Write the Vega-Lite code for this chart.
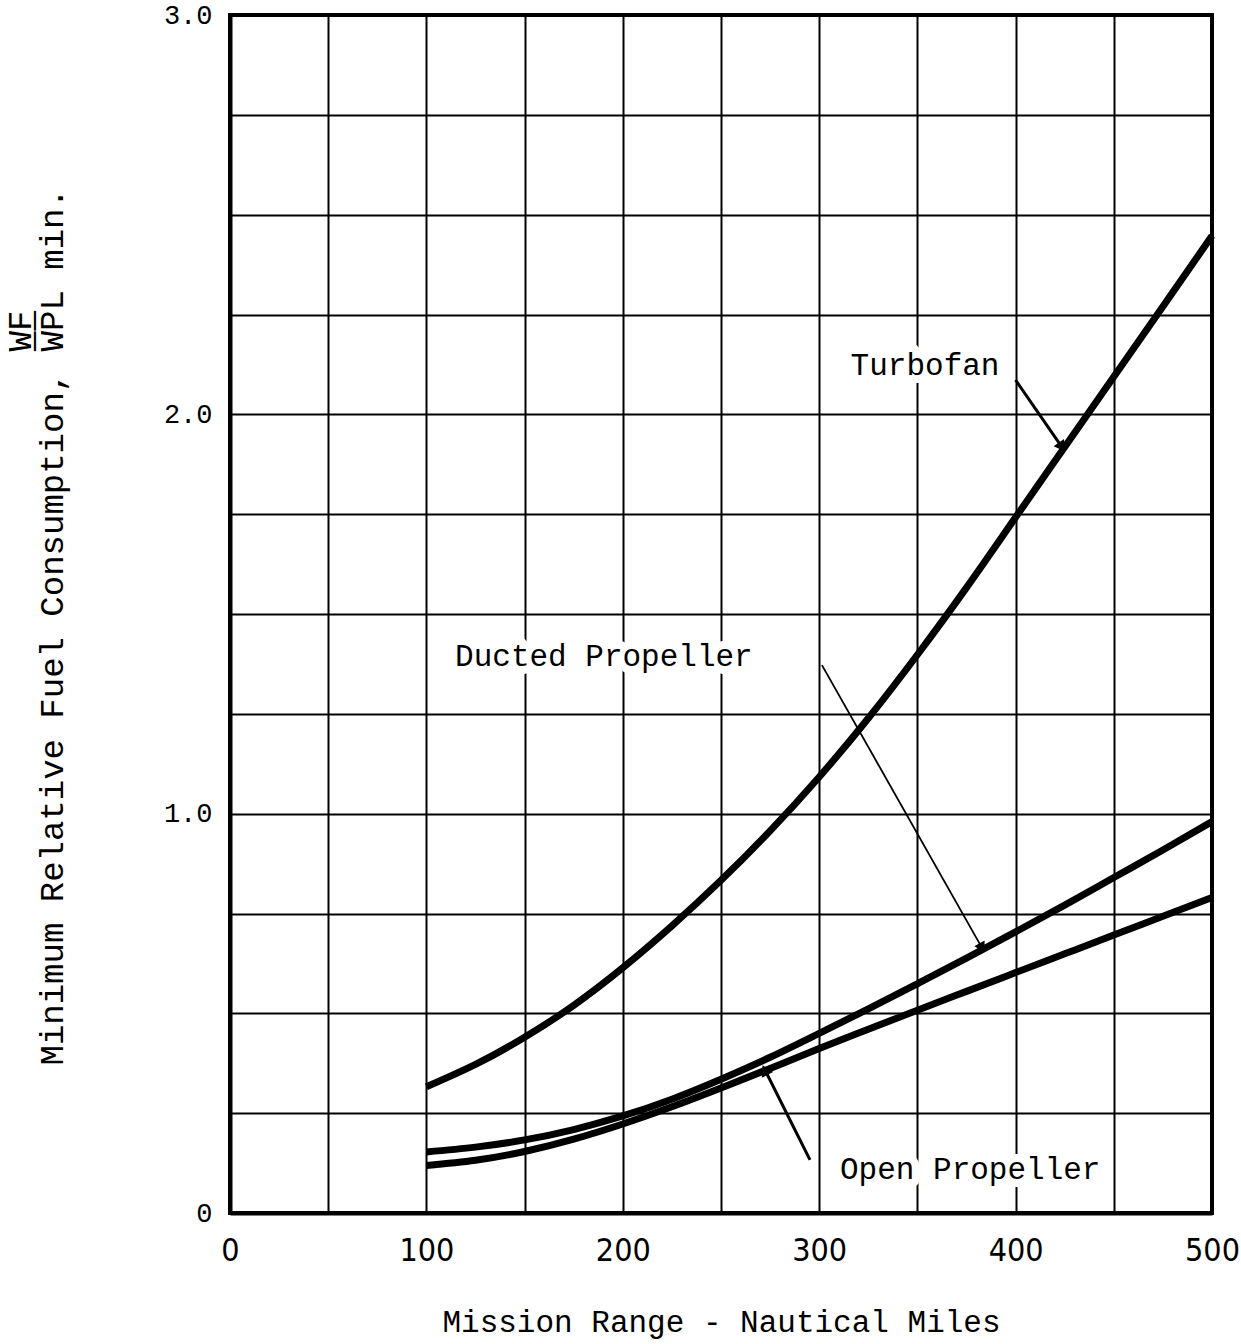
{
  "$schema": "https://vega.github.io/schema/vega-lite/v6.json",
  "width": 982,
  "height": 1198,
  "autosize": {"type": "none"},
  "padding": {"left": 230, "top": 15, "right": 29, "bottom": 131},
  "background": "white",
  "config": {
    "view": {"stroke": "black", "strokeWidth": 4},
    "font": "Liberation Mono"
  },
  "datasets": {
    "curves": [
      {"series": "Turbofan", "range": 100, "value": 0.316},
      {"series": "Turbofan", "range": 125, "value": 0.372},
      {"series": "Turbofan", "range": 150, "value": 0.44},
      {"series": "Turbofan", "range": 175, "value": 0.52},
      {"series": "Turbofan", "range": 200, "value": 0.614},
      {"series": "Turbofan", "range": 225, "value": 0.719},
      {"series": "Turbofan", "range": 250, "value": 0.833},
      {"series": "Turbofan", "range": 275, "value": 0.957},
      {"series": "Turbofan", "range": 300, "value": 1.092},
      {"series": "Turbofan", "range": 325, "value": 1.239},
      {"series": "Turbofan", "range": 350, "value": 1.398},
      {"series": "Turbofan", "range": 375, "value": 1.566},
      {"series": "Turbofan", "range": 400, "value": 1.742},
      {"series": "Turbofan", "range": 425, "value": 1.918},
      {"series": "Turbofan", "range": 450, "value": 2.094},
      {"series": "Turbofan", "range": 475, "value": 2.27},
      {"series": "Turbofan", "range": 500, "value": 2.447},
      {"series": "Ducted Propeller", "range": 100, "value": 0.153},
      {"series": "Ducted Propeller", "range": 125, "value": 0.165},
      {"series": "Ducted Propeller", "range": 150, "value": 0.183},
      {"series": "Ducted Propeller", "range": 175, "value": 0.209},
      {"series": "Ducted Propeller", "range": 200, "value": 0.243},
      {"series": "Ducted Propeller", "range": 225, "value": 0.285},
      {"series": "Ducted Propeller", "range": 250, "value": 0.335},
      {"series": "Ducted Propeller", "range": 275, "value": 0.39},
      {"series": "Ducted Propeller", "range": 300, "value": 0.45},
      {"series": "Ducted Propeller", "range": 325, "value": 0.511},
      {"series": "Ducted Propeller", "range": 350, "value": 0.574},
      {"series": "Ducted Propeller", "range": 375, "value": 0.638},
      {"series": "Ducted Propeller", "range": 400, "value": 0.704},
      {"series": "Ducted Propeller", "range": 425, "value": 0.771},
      {"series": "Ducted Propeller", "range": 450, "value": 0.84},
      {"series": "Ducted Propeller", "range": 475, "value": 0.909},
      {"series": "Ducted Propeller", "range": 500, "value": 0.98},
      {"series": "Open Propeller", "range": 100, "value": 0.119},
      {"series": "Open Propeller", "range": 125, "value": 0.132},
      {"series": "Open Propeller", "range": 150, "value": 0.154},
      {"series": "Open Propeller", "range": 175, "value": 0.185},
      {"series": "Open Propeller", "range": 200, "value": 0.223},
      {"series": "Open Propeller", "range": 225, "value": 0.266},
      {"series": "Open Propeller", "range": 250, "value": 0.313},
      {"series": "Open Propeller", "range": 275, "value": 0.362},
      {"series": "Open Propeller", "range": 300, "value": 0.412},
      {"series": "Open Propeller", "range": 325, "value": 0.46},
      {"series": "Open Propeller", "range": 350, "value": 0.508},
      {"series": "Open Propeller", "range": 375, "value": 0.555},
      {"series": "Open Propeller", "range": 400, "value": 0.602},
      {"series": "Open Propeller", "range": 425, "value": 0.649},
      {"series": "Open Propeller", "range": 450, "value": 0.696},
      {"series": "Open Propeller", "range": 475, "value": 0.743},
      {"series": "Open Propeller", "range": 500, "value": 0.79}
    ],
    "labels": [
      {"label": "Turbofan", "tx": 316, "ty": 2.12, "ax": 400, "ay": 2.086, "bx": 423.6, "by": 1.918},
      {"label": "Ducted Propeller", "tx": 114.6, "ty": 1.392, "ax": 301.4, "ay": 1.372, "bx": 382.9, "by": 0.664},
      {"label": "Open Propeller", "tx": 310.6, "ty": 0.108, "ax": 295.3, "ay": 0.133, "bx": 272.4, "by": 0.358}
    ]
  },
  "layer": [
    {
      "data": {"name": "curves"},
      "mark": {"type": "line", "color": "black", "strokeWidth": 7, "interpolate": "natural", "strokeCap": "butt"},
      "encoding": {
        "x": {
          "field": "range", "type": "quantitative",
          "scale": {"domain": [0, 500], "nice": false, "zero": false},
          "axis": {
            "values": [0, 50, 100, 150, 200, 250, 300, 350, 400, 450, 500],
            "labelExpr": "datum.value % 100 === 0 ? datum.label : ''",
            "grid": true, "gridColor": "black", "gridWidth": 2, "gridOpacity": 1,
            "domain": true, "domainColor": "black", "domainWidth": 4,
            "ticks": false,
            "labelFont": "DejaVu Sans Condensed", "labelFontSize": 32, "labelColor": "black",
            "labelPadding": 22, "labelFlush": false, "labelBaseline": "top",
            "title": "Mission Range - Nautical Miles",
            "titleFont": "Liberation Mono", "titleFontSize": 31, "titleFontWeight": "normal",
            "titleColor": "black", "titleY": 109, "titleBaseline": "middle"
          }
        },
        "y": {
          "field": "value", "type": "quantitative",
          "scale": {"domain": [0, 3], "nice": false, "zero": false},
          "axis": {
            "values": [0, 0.25, 0.5, 0.75, 1, 1.25, 1.5, 1.75, 2, 2.25, 2.5, 2.75, 3],
            "labelExpr": "datum.value === 0 ? '0' : (datum.value % 1 === 0 ? format(datum.value, '.1f') : '')",
            "grid": true, "gridColor": "black", "gridWidth": 2, "gridOpacity": 1,
            "domain": true, "domainColor": "black", "domainWidth": 4,
            "ticks": false,
            "labelFont": "Liberation Mono", "labelFontSize": 27, "labelColor": "black",
            "labelPadding": 18, "labelFlush": false,
            "title": ["\u200b\u00a0\u00a0\u00a0\u00a0\u00a0\u00a0\u00a0\u00a0\u00a0\u00a0\u00a0\u00a0\u00a0\u00a0\u00a0\u00a0\u00a0\u00a0\u00a0\u00a0\u00a0\u00a0\u00a0\u00a0\u00a0\u00a0\u00a0\u00a0\u00a0\u00a0\u00a0\u00a0\u00a0\u00a0\u00a0W\u0332F\u0332", "Minimum Relative Fuel Consumption, WPL min."],
            "titleFont": "Liberation Mono", "titleFontSize": 34, "titleFontWeight": "normal",
            "titleColor": "black", "titleX": -210, "titleY": 1050, "titleAlign": "left",
            "titleAngle": 270, "titleBaseline": "middle", "titleLineHeight": 32
          }
        },
        "detail": {"field": "series", "type": "nominal"}
      }
    },
    {
      "data": {"name": "labels"},
      "mark": {"type": "rule", "color": "black"},
      "encoding": {
        "x": {"field": "ax", "type": "quantitative"},
        "y": {"field": "ay", "type": "quantitative"},
        "x2": {"field": "bx"},
        "y2": {"field": "by"},
        "strokeWidth": {"condition": {"test": "datum.label === 'Ducted Propeller'", "value": 1.8}, "value": 3}
      }
    },
    {
      "data": {"name": "labels"},
      "transform": [{"filter": "datum.label === 'Turbofan'"}],
      "mark": {"type": "point", "shape": "triangle-up", "filled": true, "color": "black", "size": 160, "angle": 145, "opacity": 1},
      "encoding": {
        "x": {"field": "bx", "type": "quantitative"},
        "y": {"field": "by", "type": "quantitative"}
      }
    },
    {
      "data": {"name": "labels"},
      "transform": [{"filter": "datum.label === 'Ducted Propeller'"}],
      "mark": {"type": "point", "shape": "triangle-up", "filled": true, "color": "black", "size": 140, "angle": 150, "opacity": 1},
      "encoding": {
        "x": {"field": "bx", "type": "quantitative"},
        "y": {"field": "by", "type": "quantitative"}
      }
    },
    {
      "data": {"name": "labels"},
      "transform": [{"filter": "datum.label === 'Open Propeller'"}],
      "mark": {"type": "point", "shape": "triangle-up", "filled": true, "color": "black", "size": 160, "angle": 333, "opacity": 1},
      "encoding": {
        "x": {"field": "bx", "type": "quantitative"},
        "y": {"field": "by", "type": "quantitative"}
      }
    },
    {
      "data": {"name": "labels"},
      "mark": {"type": "text", "align": "left", "baseline": "middle", "font": "Liberation Mono", "fontSize": 31, "fill": "white", "stroke": "white", "strokeWidth": 16, "strokeJoin": "round", "opacity": 1},
      "encoding": {
        "x": {"field": "tx", "type": "quantitative"},
        "y": {"field": "ty", "type": "quantitative"},
        "text": {"field": "label"}
      }
    },
    {
      "data": {"name": "labels"},
      "mark": {"type": "text", "align": "left", "baseline": "middle", "font": "Liberation Mono", "fontSize": 31, "color": "black"},
      "encoding": {
        "x": {"field": "tx", "type": "quantitative"},
        "y": {"field": "ty", "type": "quantitative"},
        "text": {"field": "label"}
      }
    }
  ]
}
